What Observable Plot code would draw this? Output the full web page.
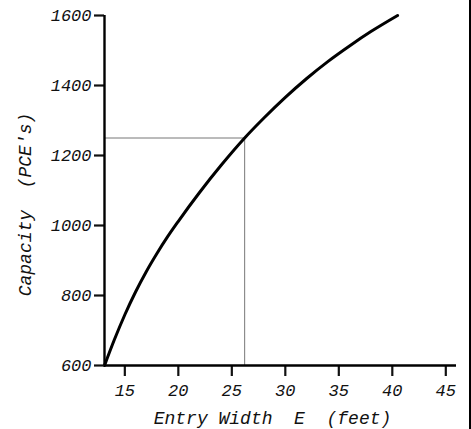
<!DOCTYPE html>
<html>
<head>
<meta charset="utf-8">
<script src="https://cdn.jsdelivr.net/npm/d3@7"></script>
<script src="https://cdn.jsdelivr.net/npm/@observablehq/plot@0.6"></script>
<style>
  html, body { margin: 0; padding: 0; background: #fff; }
  #chart { width: 469px; height: 429px; border-right: 2px solid #000; }
  #chart svg text { white-space: pre; }
</style>
</head>
<body>
<div id="chart"></div>
<script>
// Entry width E (feet) vs capacity (PCE's)
const entryWidth = [13.1, 14, 15, 16, 17, 18, 19, 20, 22, 24, 26.2, 28, 30, 32, 34, 36, 38, 40.5];
const capacity   = [600, 672, 745, 810, 868, 920, 968, 1012, 1095, 1172, 1250, 1307, 1366, 1420, 1469, 1513, 1554, 1600];
const xTicks = [15, 20, 25, 30, 35, 40, 45];
const yTicks = [600, 800, 1000, 1200, 1400, 1600];
const xDomain = [13.1, 46];
const yDomain = [600, 1600];
const refPoint = {x: 26.2, y: 1250};
const xLabel = "Entry Width  E  (feet)";
const yLabel = "Capacity  (PCE's)";

const data = entryWidth.map((e, i) => ({e, c: capacity[i]}));
const font = "Liberation Mono, Courier New, monospace";

const chart = Plot.plot({
  width: 469,
  height: 429,
  marginLeft: 104,
  marginRight: 13,
  marginTop: 15,
  marginBottom: 64,
  x: {domain: xDomain},
  y: {domain: yDomain},
  style: {fontFamily: font, fontStyle: "italic", fontSize: "17px", color: "#111", background: "#fff", overflow: "visible"},
  marks: [
    // reference lines
    Plot.ruleY([refPoint], {y: "y", x1: xDomain[0], x2: "x", stroke: "#777", strokeWidth: 1}),
    Plot.ruleX([refPoint], {x: "x", y1: yDomain[0], y2: "y", stroke: "#777", strokeWidth: 1}),
    // curve
    Plot.line(data, {x: "e", y: "c", stroke: "#000", strokeWidth: 3, curve: "monotone-x"}),
    // axes
    Plot.axisX({ticks: xTicks, tickFormat: d => String(d), tickSize: 11, tickPadding: 7, strokeWidth: 2.2, label: null, fontSize: 17, fontStyle: "italic", fontFamily: font}),
    Plot.axisY({ticks: yTicks, tickFormat: d => String(d), tickSize: 10, tickPadding: 3, strokeWidth: 2.2, label: null, fontSize: 17, fontStyle: "italic", fontFamily: font}),
    Plot.ruleX([xDomain[0]], {y1: yDomain[0], y2: yDomain[1], stroke: "#000", strokeWidth: 2.4}),
    Plot.ruleY([yDomain[0]], {x1: xDomain[0], x2: xDomain[1], stroke: "#000", strokeWidth: 2.4}),
    // axis labels
    Plot.text([xLabel], {frameAnchor: "bottom", dy: 58, dx: -8, text: d => d, fontSize: 18, fontStyle: "italic", fontFamily: font, fill: "#111"}),
    Plot.text([yLabel], {frameAnchor: "left", textAnchor: "middle", dx: -79, dy: 14, rotate: -90, text: d => d, fontSize: 18, fontStyle: "italic", fontFamily: font, fill: "#111"})
  ]
});
document.getElementById("chart").appendChild(chart);
</script>
</body>
</html>
